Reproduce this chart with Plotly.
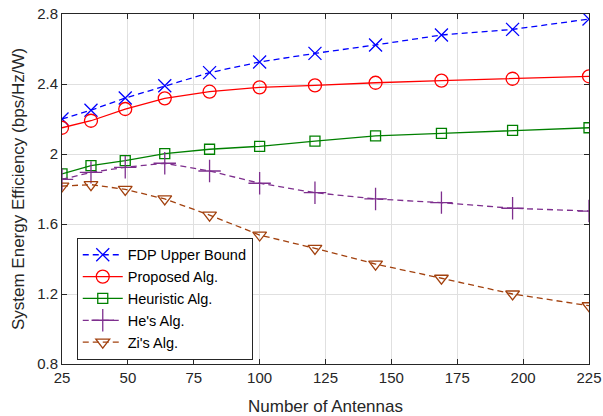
import plotly.graph_objects as go

antennas = [25, 36, 49, 64, 81, 100, 121, 144, 169, 196, 225]
fdp_upper = [2.20, 2.25, 2.32, 2.39, 2.465, 2.526, 2.575, 2.623, 2.68, 2.712, 2.771]
proposed = [2.150, 2.190, 2.257, 2.318, 2.356, 2.381, 2.392, 2.407, 2.419, 2.430, 2.444]
heuristic = [1.886, 1.933, 1.962, 2.002, 2.027, 2.044, 2.074, 2.103, 2.118, 2.135, 2.150]
he_alg = [1.855, 1.895, 1.924, 1.947, 1.903, 1.833, 1.779, 1.743, 1.722, 1.690, 1.674]
zi_alg = [1.817, 1.825, 1.798, 1.743, 1.651, 1.537, 1.461, 1.371, 1.290, 1.200, 1.133]

x_ticks = [25, 50, 75, 100, 125, 150, 175, 200, 225]
y_ticks = [0.8, 1.2, 1.6, 2.0, 2.4, 2.8]
y_tick_text = ["0.8", "1.2", "1.6", "2", "2.4", "2.8"]

series = [
    ("FDP Upper Bound", fdp_upper, "#0000FF", "dash", "x-thin-open", 13),
    ("Proposed Alg.", proposed, "#FF0000", "solid", "circle-open", 13),
    ("Heuristic Alg.", heuristic, "#008000", "solid", "square-open", 10),
    ("He's Alg.", he_alg, "#7E2F8E", "dash", "cross-thin-open", 16),
    ("Zi's Alg.", zi_alg, "#A2410E", "dash", "triangle-down-open", 12),
]

fig = go.Figure()
for name, vals, color, dash, sym, size in series:
    fig.add_trace(go.Scatter(
        x=antennas, y=vals, name=name, mode="lines+markers",
        line=dict(color=color, width=1.3, dash="6px,4px" if dash == "dash" else "solid"),
        marker=dict(symbol=sym, size=size, color=color, line=dict(color=color, width=1.3)),
    ))

axis_common = dict(
    showline=True, linecolor="#262626", linewidth=1, mirror="ticks",
    ticks="inside", ticklen=5, tickcolor="#262626",
    showgrid=True, gridcolor="#E0E0E0", gridwidth=1, zeroline=False,
    automargin=False,
    tickfont=dict(family="Liberation Sans, Arial", size=15, color="#262626"),
)

fig.update_layout(
    width=603, height=416,
    margin=dict(l=62, r=14, t=14, b=52),
    plot_bgcolor="white", paper_bgcolor="white",
    font=dict(family="Liberation Sans, Arial", color="#262626"),
    xaxis=dict(range=[25, 225], tickvals=x_ticks,
               title=dict(text="Number of Antennas", font=dict(size=17), standoff=15),
               **axis_common),
    yaxis=dict(range=[0.8, 2.8], tickvals=y_ticks, ticktext=y_tick_text,
               title=dict(text="System Energy Efficiency (bps/Hz/W)", font=dict(size=17), standoff=8),
               **axis_common),
    legend=dict(x=0.028, y=0.012, xanchor="left", yanchor="bottom",
                bgcolor="white", bordercolor="#262626", borderwidth=1,
                font=dict(size=14.5, color="#000000"), tracegroupgap=0,
                itemwidth=40),
    showlegend=True,
)

fig.write_html("out.html")
